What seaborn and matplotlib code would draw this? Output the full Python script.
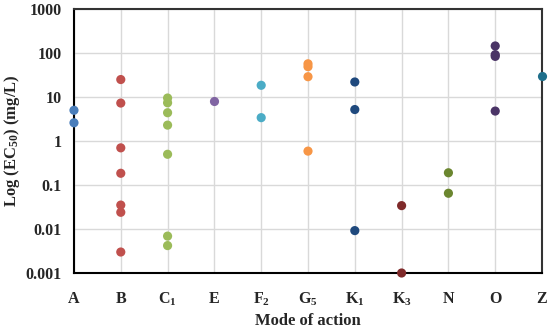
import numpy as np
import pandas as pd
import seaborn as sns
import matplotlib.pyplot as plt
from matplotlib.ticker import FixedLocator, FixedFormatter

# categories (mode of action) and EC50 values
modes = ['A', 'B', 'C1', 'E', 'F2', 'G5', 'K1', 'K3', 'N', 'O', 'Z']
tick_labels = ['A', 'B', 'C$_{1}$', 'E', 'F$_{2}$', 'G$_{5}$', 'K$_{1}$', 'K$_{3}$', 'N', 'O', 'Z']

vals_A = [5.0, 2.6]
vals_B = [25, 7.3, 0.7, 0.185, 0.035, 0.024, 0.003]
vals_C1 = [9.5, 7.4, 4.4, 2.3, 0.5, 0.0069, 0.0042]
vals_E = [8.3]
vals_F2 = [18.5, 3.4]
vals_G5 = [57, 49, 29, 0.59]
vals_K1 = [22, 5.2, 0.0092]
vals_K3 = [0.034, 0.001]
vals_N = [0.19, 0.065]
vals_O = [145, 92, 84, 4.8]
vals_Z = [30]

colors = ['#4a7ebb', '#c0504d', '#9bbb59', '#8064a2', '#4bacc6', '#f79646',
          '#1f497d', '#7f2a2a', '#6b862f', '#4a3466', '#1f6f8b']

all_vals = [vals_A, vals_B, vals_C1, vals_E, vals_F2, vals_G5, vals_K1,
            vals_K3, vals_N, vals_O, vals_Z]
rows = []
for m, vs in zip(modes, all_vals):
    for v in vs:
        rows.append((m, v))
df = pd.DataFrame(rows, columns=['mode', 'ec50'])

sns.set_style('white')
plt.rcParams['font.family'] = ['Liberation Serif', 'DejaVu Serif']
plt.rcParams['mathtext.fontset'] = 'custom'
plt.rcParams['mathtext.rm'] = 'Liberation Serif:bold'
plt.rcParams['mathtext.bf'] = 'Liberation Serif:bold'
plt.rcParams['mathtext.default'] = 'rm'

fig = plt.figure(figsize=(5.5, 3.32), dpi=100)
ax = fig.add_axes([0.1345, 0.1777, 0.851, 0.795])

sns.stripplot(data=df, x='mode', y='ec50', hue='mode', order=modes,
              palette=dict(zip(modes, colors)), jitter=False, size=6.6,
              linewidth=0, legend=False, ax=ax, zorder=3)
for c in ax.collections:
    c.set_clip_on(False)

ax.set_yscale('log')
ax.set_ylim(0.001, 1000)
ax.set_xlim(0, 10)
yt = [0.001, 0.01, 0.1, 1, 10, 100, 1000]
ax.yaxis.set_major_locator(FixedLocator(yt))
ax.yaxis.set_major_formatter(FixedFormatter(['0.001', '0.01', '0.1', '1', '10', '100', '1000']))
ax.yaxis.set_minor_locator(FixedLocator([]))
ax.set_xticks(range(len(modes)))
ax.set_xticklabels(tick_labels)

ax.grid(True, color='#d9d9d9', linewidth=1.0)
ax.set_axisbelow(True)
for s in ax.spines.values():
    s.set_visible(True)
    s.set_color('black')
    s.set_linewidth(1.5)
ax.spines['top'].set_color('#333333')
ax.spines['right'].set_color('#333333')

ax.tick_params(axis='y', length=0, pad=9, labelsize=11.5)
ax.tick_params(axis='x', length=0, pad=13, labelsize=11.5)
for t in ax.get_xticklabels() + ax.get_yticklabels():
    t.set_fontweight('bold')

ax.set_xlabel('Mode of action', fontsize=12, fontweight='bold', labelpad=3)
ax.set_ylabel('Log (EC$_{50}$) (mg/L)', fontsize=12, fontweight='bold', labelpad=2)

fig.savefig('out.png', dpi=100)
